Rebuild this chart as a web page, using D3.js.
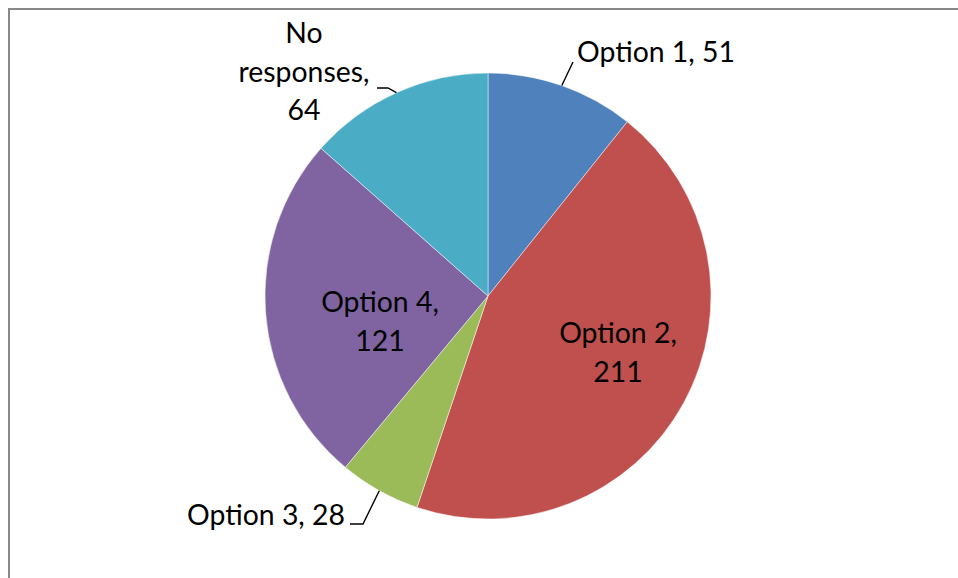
<!DOCTYPE html>
<html>
<head>
<meta charset="utf-8">
<script src="https://cdn.jsdelivr.net/npm/d3@7"></script>
<style>
  html, body { margin: 0; padding: 0; background: #fff; }
  svg { display: block; }
</style>
</head>
<body>
<svg id="chart" width="958" height="578"></svg>
<script>
// Survey responses
const categories = ["Option 1", "Option 2", "Option 3", "Option 4", "No responses"];
const values = [51, 211, 28, 121, 64];
const colors = ["#4F81BD", "#C0504D", "#9BBB59", "#8064A2", "#4BACC6"];

// Label lines (text as drawn, broken where it wraps)
const labelLines = [
  ["Option 1, 51"],
  ["Option 2,", "211"],
  ["Option 3, 28"],
  ["Option 4,", "121"],
  ["No", "responses,", "64"]
];

const W = 958, H = 578;
const cx = 488, cy = 296, R = 223;
const fontFamily = "Lato, 'Open Sans', sans-serif";

const svg = d3.select("#chart");

// chart area frame
svg.append("rect")
  .attr("x", 9).attr("y", 9)
  .attr("width", W + 10).attr("height", H + 10)
  .attr("fill", "#fff")
  .attr("stroke", "#888888")
  .attr("stroke-width", 2);

const data = categories.map((c, i) => ({ category: c, value: values[i], color: colors[i], lines: labelLines[i] }));

const pie = d3.pie().sort(null).value(d => d.value);
const arcs = pie(data);
const arc = d3.arc().innerRadius(0).outerRadius(R);

const g = svg.append("g").attr("transform", `translate(${cx},${cy})`);

g.selectAll("path.slice")
  .data(arcs)
  .join("path")
  .attr("class", "slice")
  .attr("d", arc)
  .attr("fill", d => d.data.color)
  .attr("stroke", "#ffffff")
  .attr("stroke-opacity", 0.6)
  .attr("stroke-width", 0.8);

// size the label font so the text widths follow Calibri-like proportions
const probe = svg.append("text")
  .attr("font-family", fontFamily)
  .attr("font-size", 100)
  .text("Option 1, 51");
const probeLen = probe.node().getComputedTextLength();
probe.remove();
const fontSize = 100 * 158 / probeLen;
const lineGap = 38.5;

// label placement relative to pie centre: anchor, x, first baseline
const labelLayout = [
  { anchor: "start",  dx: 89,   dy: -234 },
  { anchor: "middle", dx: 130,  dy: 47 },
  { anchor: "end",    dx: -143, dy: 229 },
  { anchor: "middle", dx: -108, dy: 16 },
  { anchor: "middle", dx: -184, dy: -253 }
];

// leader lines for labels outside the pie: bend points relative to pie centre
const leaders = {
  0: [[85, -234]],
  2: [[-125, 228], [-138, 228]],
  4: [[-100, -208], [-111, -208]]
};

arcs.forEach((a, i) => {
  if (!leaders[i]) return;
  const mid = (a.startAngle + a.endAngle) / 2;
  const p0 = [R * Math.sin(mid), -R * Math.cos(mid)];
  const pts = [p0].concat(leaders[i]);
  g.append("path")
    .attr("d", d3.line()(pts))
    .attr("fill", "none")
    .attr("stroke", "#000")
    .attr("stroke-width", 1.4);
});

arcs.forEach((a, i) => {
  const L = labelLayout[i];
  const t = g.append("text")
    .attr("font-family", fontFamily)
    .attr("font-size", fontSize)
    .attr("fill", "#000")
    .attr("text-anchor", L.anchor);
  a.data.lines.forEach((ln, k) => {
    t.append("tspan")
      .attr("x", L.dx)
      .attr("y", L.dy + k * lineGap)
      .text(ln);
  });
});
</script>
</body>
</html>
